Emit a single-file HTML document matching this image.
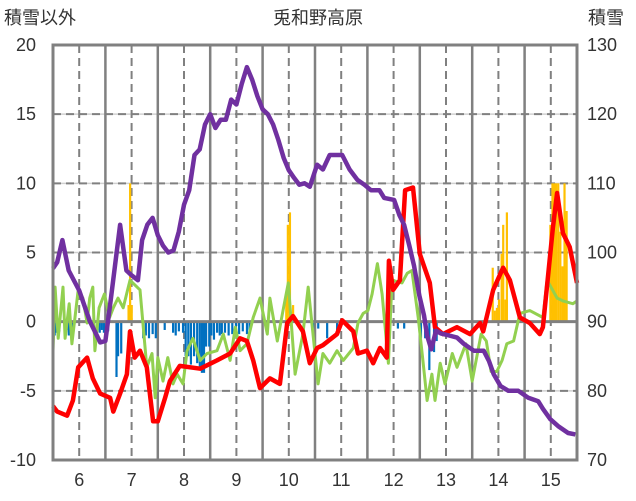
<!DOCTYPE html>
<html><head><meta charset="utf-8">
<style>
html,body{margin:0;padding:0;background:#fff;}
svg{display:block;font-family:"Liberation Sans","Noto Sans CJK JP",sans-serif;}
</style></head>
<body>
<svg id="chart" width="636" height="501" viewBox="0 0 636 501" xmlns="http://www.w3.org/2000/svg">
<text x="318" y="24" text-anchor="middle" font-size="18" fill="#333">兎和野高原</text>
<text x="4" y="24" font-size="18" fill="#333">積雪以外</text>
<text x="588" y="24" font-size="18" fill="#333">積雪</text>
<g id="grid"></g>
<g id="bars"></g>
<g id="lines"></g>
<g id="ticks"></g>
<rect x="53" y="45" width="524" height="415" fill="none" stroke="#808080" stroke-width="3"/>
</svg>
<script>
const xTicks=[6,7,8,9,10,11,12,13,14,15];
const leftTicks=[20,15,10,5,0,-5,-10];
const rightTicks=[130,120,110,100,90,80,70];
const purpleT=[5.5,5.58,5.68,5.8,6.0,6.2,6.4,6.5,6.6,6.78,6.9,7.0,7.12,7.2,7.3,7.4,7.5,7.6,7.7,7.8,7.9,8.0,8.1,8.2,8.3,8.4,8.5,8.6,8.7,8.8,8.9,9.0,9.1,9.2,9.3,9.4,9.5,9.6,9.7,9.8,9.9,10.0,10.1,10.2,10.3,10.4,10.54,10.65,10.78,11.02,11.16,11.31,11.44,11.57,11.73,11.82,12.01,12.11,12.2,12.3,12.39,12.49,12.58,12.64,12.72,12.81,12.9,13.06,13.21,13.34,13.53,13.72,13.82,13.91,14.04,14.19,14.38,14.57,14.76,14.85,14.99,15.14,15.33,15.47];
const purpleV=[97.7,98.6,101.8,97.4,94.5,90.1,87,87.2,93,104,97.4,96.7,96,101.8,104,105,102.5,101,100,100.3,103,106.9,109,114.1,114.9,118.5,120,118,119.2,119.2,122.1,121.4,124.3,126.8,125,122.6,120.7,120,118.5,116.3,113.7,111.9,110.8,109.8,110,109.5,112.7,112,114.1,114.1,112,110.5,109.8,109,109,107.9,107.6,105.4,104,101,98.1,93.8,90.9,88,86,88.7,88.3,88,87.7,86.8,85.8,85.8,84.3,82.4,80.7,80,80,79,78.5,77.4,75.9,74.9,73.9,73.7];
const redT=[5.5,5.58,5.77,5.88,5.98,6.15,6.26,6.4,6.59,6.65,6.78,6.91,6.97,7.06,7.16,7.29,7.41,7.5,7.64,7.73,7.92,8.31,8.63,8.88,9.07,9.2,9.32,9.45,9.64,9.83,9.97,10.08,10.27,10.4,10.54,10.65,10.92,11.02,11.23,11.32,11.49,11.61,11.74,11.87,11.91,11.99,12.12,12.22,12.37,12.5,12.69,12.79,12.94,13.21,13.46,13.65,13.71,13.9,14.09,14.22,14.41,14.6,14.79,14.85,15.04,15.12,15.23,15.36,15.5];
const redV=[-6.1,-6.5,-6.8,-5.7,-3.3,-2.6,-4.1,-5.2,-5.5,-6.5,-5.2,-3.8,-0.7,-2.6,-2.1,-3.3,-7.2,-7.2,-5.5,-4.3,-3.2,-3.4,-2.8,-2.3,-1.2,-1.4,-2.8,-4.8,-4.1,-4.5,-0.1,0.4,-0.7,-3,-1.9,-1.7,-0.9,0.1,-0.7,-2.3,-2.1,-3,-1.9,-2.6,4.4,2.3,3,9.5,9.7,4.9,2.8,-0.4,-0.9,-0.4,-0.9,-0.1,-0.7,2.3,3.9,3,0.3,-0.1,-0.9,-0.4,6.8,9.3,6.4,5.4,2.8];
const greenT=[5.5,5.54,5.6,5.69,5.73,5.81,5.86,5.98,6.07,6.15,6.2,6.26,6.3,6.38,6.48,6.58,6.65,6.74,6.84,6.97,7.16,7.29,7.39,7.45,7.5,7.6,7.69,7.79,7.87,7.98,8.06,8.17,8.31,8.44,8.63,8.75,8.88,8.98,9.07,9.2,9.32,9.45,9.59,9.64,9.78,9.89,9.99,10.12,10.27,10.37,10.56,10.65,10.78,10.92,11.04,11.23,11.32,11.42,11.51,11.59,11.69,11.78,11.9,11.97,12.16,12.26,12.35,12.47,12.56,12.64,12.73,12.79,12.89,12.98,13.12,13.21,13.38,13.5,13.67,13.77,13.86,13.97,14.07,14.16,14.29,14.41,14.6,14.85,14.93,15.12,15.23,15.42,15.5];
const greenV=[-2.1,2.5,-1.2,2.5,-1.2,1.3,-1.6,2.3,1.7,-0.1,1.7,2.5,-2.1,1,2,0.3,1,1.7,1,3,2.3,-3.3,-2.3,-5.5,-2.6,-4.3,-2.6,-4.5,-3.8,-4.5,-2.1,-1.2,-2.8,-2.3,-2.1,-0.9,-2.8,-0.4,-2.1,-1.6,0.3,1.7,-0.9,1.7,-1.4,0.8,2.8,-3.8,-0.9,2.5,-4.5,-2.3,-3,-2.1,-2.8,-1.9,-0.1,0.6,0.8,2,4.2,2,-3,3,2.8,3.5,3.7,0.3,-2.8,-5.7,-3.8,-5.7,-3,-4.5,-2.3,-3.3,-1.6,-4.3,-0.9,-1.4,-3.6,-3.6,-2.8,-1.6,-1.4,0.6,0.8,0.3,3,1.7,1.5,1.3,1.5];
const orangeT=[6.94,6.97,7.0,9.95,9.98,10.02,10.08,13.89,13.93,13.97,14.01,14.06,14.09,14.13,14.16,14.99,15.03,15.07,15.1,15.14,15.18,15.22,15.26,15.3];
const orangeV=[1.2,10,1.2,2,7,7.9,1.2,3.9,0.8,1,1.6,4.9,7,1.6,7.9,7,10,10,10,10,6.5,4,10,8];
const blueT=[5.53,5.56,5.59,5.62,5.72,5.76,5.8,5.88,6.39,6.43,6.47,6.55,6.71,6.74,6.8,7.22,7.27,7.33,7.4,7.46,7.63,7.79,7.84,7.9,7.98,8.03,8.08,8.13,8.19,8.25,8.3,8.34,8.38,8.42,8.48,8.52,8.57,8.63,8.68,8.72,8.78,8.85,8.92,8.99,9.05,9.12,9.2,9.25,10.46,10.56,10.73,10.92,12.08,12.2,12.52,12.6,12.68,12.77,12.82];
const blueV=[-1,-0.8,-1,-0.7,-1,-0.6,-1,-0.7,-0.8,-0.6,-0.8,-0.7,-4,-2.5,-2.3,-1.2,-1,-1.2,-0.9,-1.2,-0.6,-0.8,-1,-0.7,-0.8,-2.5,-2.5,-3.1,-2.5,-3,-3.4,-3.7,-3.7,-1.8,-1.8,-1,-1.3,-0.8,-1,-0.9,-0.8,-1,-0.9,-0.8,-0.9,-0.7,-0.9,-0.8,-0.5,-0.5,-1.2,-0.6,-0.5,-0.5,-1.2,-1.2,-3.5,-2.2,-1.4];

const X0=53,X1=577,YT=45,YB=460;
function xS(t){return X0+(t-5.5)/10*(X1-X0);}
function yL(v){return YB-(v+10)/30*(YB-YT);}
function yR(v){return YB-(v-70)/60*(YB-YT);}
const NS="http://www.w3.org/2000/svg";
function mk(tag,attrs,parent){const e=document.createElementNS(NS,tag);for(const k in attrs)e.setAttribute(k,attrs[k]);parent.appendChild(e);return e;}
const grid=document.getElementById('grid');
[15,10,5,-5].forEach(v=>{
  const l1=mk('line',{x1:X0,x2:X1,y1:yL(v),y2:yL(v),stroke:'#d0d0d0','stroke-width':1.5},grid);
  
  
  const l=mk('line',{x1:X0,x2:X1,y1:yL(v),y2:yL(v),stroke:'#808080','stroke-width':2,'stroke-dasharray':'8,5'},grid);
  
  
});
xTicks.forEach(t=>{
  const l=mk('line',{x1:xS(t),x2:xS(t),y1:YT,y2:YB,stroke:'#808080','stroke-width':2,'stroke-dasharray':'8,5'},grid);
  
  
  if(t<15){
    const s=mk('line',{x1:xS(t+0.5),x2:xS(t+0.5),y1:YT,y2:YB,stroke:'#808080','stroke-width':2.5},grid);
    
    
  }
});
const bars=document.getElementById('bars');
orangeT.forEach((t,i)=>{
  const y=yL(orangeV[i]);
  const r=mk('rect',{x:xS(t)-1,y:y,width:2.2,height:yL(0)-y,fill:'#FFC000'},bars);
  
  
});
blueT.forEach((t,i)=>{
  const y=yL(blueV[i]);
  const r=mk('rect',{x:xS(t)-1,y:yL(0),width:2.2,height:y-yL(0),fill:'#0070C0'},bars);
  
  
});
const zl=mk('line',{x1:X0,x2:X1,y1:yL(0),y2:yL(0),stroke:'#808080','stroke-width':3},bars);


const lines=document.getElementById('lines');
function series(T,V,ys,color,w,name){
  const d=T.map((t,i)=>(i?'L':'M')+xS(t).toFixed(1)+','+ys(V[i]).toFixed(1)).join(' ');
  const p=mk('path',{d:d,fill:'none',stroke:color,'stroke-width':w,'stroke-linejoin':'round'},lines);
  
  
}
series(greenT,greenV,yL,'#92D050',3,'green-series-line');
series(redT,redV,yL,'#FF0000',4.5,'red-series-line');
series(purpleT,purpleV,yR,'#7030A0',4.5,'snow-depth-line');
const ticks=document.getElementById('ticks');
leftTicks.forEach(v=>{
  const t=mk('text',{x:36,y:yL(v)+6,'text-anchor':'end','font-size':18,fill:'#333'},ticks);
  t.textContent=v;
  
  
});
rightTicks.forEach(v=>{
  const t=mk('text',{x:587,y:yR(v)+6,'font-size':18,fill:'#333'},ticks);
  t.textContent=v;
  
  
});
xTicks.forEach(v=>{
  const t=mk('text',{x:xS(v),y:486,'text-anchor':'middle','font-size':18,fill:'#333'},ticks);
  t.textContent=v;
  
  
});
</script>
</body></html>
